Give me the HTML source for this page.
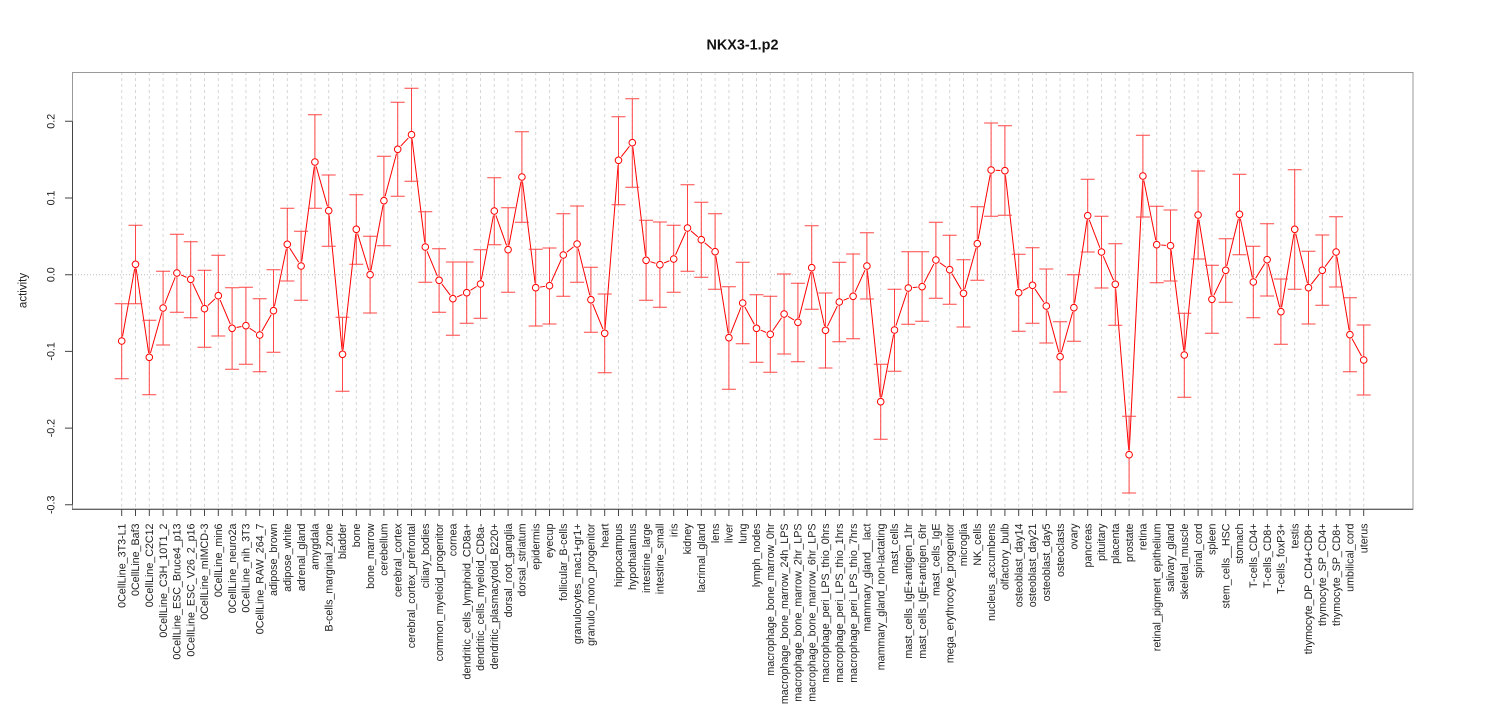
<!DOCTYPE html>
<html><head><meta charset="utf-8"><style>
body{margin:0;background:#fff}
svg{display:block}
text{font-family:"Liberation Sans",Arial,sans-serif;fill:#222}
.xl text{font-size:10.7px;text-anchor:end}
.yl text{font-size:10.7px;text-anchor:middle}
</style></head><body>
<svg xmlns="http://www.w3.org/2000/svg" width="1485" height="720" viewBox="0 0 1485 720">
<defs>
<pattern id="vg" patternUnits="userSpaceOnUse" x="114.8" y="72" width="13.8" height="6"><rect x="6.4" y="0" width="1" height="3" fill="#d6d6d6"/></pattern>
<pattern id="tk" patternUnits="userSpaceOnUse" x="114.8" y="509" width="13.8" height="8"><rect x="6.4" y="0" width="1" height="8" fill="#444"/></pattern>
<marker id="g" markerUnits="userSpaceOnUse" markerWidth="12" markerHeight="12" refX="6" refY="6" overflow="visible"><circle cx="6" cy="6" r="4.6" fill="#fff"/></marker>
<marker id="c" markerUnits="userSpaceOnUse" markerWidth="12" markerHeight="12" refX="6" refY="6" overflow="visible"><circle cx="6" cy="6" r="3.3" fill="#fff" stroke="#f00" stroke-width="1"/></marker>
</defs>
<rect width="1485" height="720" fill="#fff"/>
<rect x="114.8" y="72" width="1255.8" height="437" fill="url(#vg)"/>
<line x1="72" y1="274.7" x2="1413" y2="274.7" stroke="#bbb" stroke-dasharray="1 2"/>

<polyline fill="none" stroke="#f00" stroke-width="1" points="121.7,341 135.5,264.3 149.3,357.3 163.1,308 176.9,273 190.7,279.3 204.5,308.7 218.3,295.7 232.1,328.3 245.9,325.7 259.7,335 273.5,310.7 287.3,244.3 301.1,266 314.9,162 328.7,210.7 342.5,354.3 356.3,229.3 370.1,274.7 383.9,200.7 397.7,149.3 411.5,134.7 425.3,247 439.1,280.3 452.9,298.7 466.7,292.7 480.5,284 494.3,211 508.1,249.7 521.9,177 535.7,287.7 549.5,285.7 563.3,255 577.1,244 590.9,299.7 604.7,333.3 618.5,160.3 632.3,142.7 646.1,260.3 659.9,264.7 673.7,259 687.5,228 701.3,239.7 715.1,251.7 728.9,337.7 742.7,303 756.5,328.3 770.3,334.3 784.1,314 797.9,322.3 811.7,267.7 825.5,330.3 839.3,302 853.1,296.3 866.9,266 880.7,401.7 894.5,330 908.3,288 922.1,286.7 935.9,260 949.7,269.7 963.5,293.3 977.3,243.7 991.1,170 1004.9,170.7 1018.7,292.7 1032.5,285.3 1046.3,306 1060.1,356.7 1073.9,307.7 1087.7,215.7 1101.5,252 1115.3,284.3 1129.1,454.7 1142.9,176 1156.7,244.7 1170.5,245.7 1184.3,355 1198.1,215 1211.9,299.3 1225.7,270.3 1239.5,214.3 1253.3,282 1267.1,259.7 1280.9,311.7 1294.7,229.3 1308.5,287.7 1322.3,270.3 1336.1,252 1349.9,334.7 1363.7,360"/>

<polyline fill="none" stroke="none" marker-start="url(#g)" marker-mid="url(#g)" marker-end="url(#g)" points="121.7,341 135.5,264.3 149.3,357.3 163.1,308 176.9,273 190.7,279.3 204.5,308.7 218.3,295.7 232.1,328.3 245.9,325.7 259.7,335 273.5,310.7 287.3,244.3 301.1,266 314.9,162 328.7,210.7 342.5,354.3 356.3,229.3 370.1,274.7 383.9,200.7 397.7,149.3 411.5,134.7 425.3,247 439.1,280.3 452.9,298.7 466.7,292.7 480.5,284 494.3,211 508.1,249.7 521.9,177 535.7,287.7 549.5,285.7 563.3,255 577.1,244 590.9,299.7 604.7,333.3 618.5,160.3 632.3,142.7 646.1,260.3 659.9,264.7 673.7,259 687.5,228 701.3,239.7 715.1,251.7 728.9,337.7 742.7,303 756.5,328.3 770.3,334.3 784.1,314 797.9,322.3 811.7,267.7 825.5,330.3 839.3,302 853.1,296.3 866.9,266 880.7,401.7 894.5,330 908.3,288 922.1,286.7 935.9,260 949.7,269.7 963.5,293.3 977.3,243.7 991.1,170 1004.9,170.7 1018.7,292.7 1032.5,285.3 1046.3,306 1060.1,356.7 1073.9,307.7 1087.7,215.7 1101.5,252 1115.3,284.3 1129.1,454.7 1142.9,176 1156.7,244.7 1170.5,245.7 1184.3,355 1198.1,215 1211.9,299.3 1225.7,270.3 1239.5,214.3 1253.3,282 1267.1,259.7 1280.9,311.7 1294.7,229.3 1308.5,287.7 1322.3,270.3 1336.1,252 1349.9,334.7 1363.7,360"/>

<path fill="none" stroke="#ff4545" stroke-width="1" d="
M121.7 303.7m-7 0h14m-7 0V378.7m-7 0h14
M135.5 225.3m-7 0h14m-7 0V303.7m-7 0h14
M149.3 320.3m-7 0h14m-7 0V394.7m-7 0h14
M163.1 271.3m-7 0h14m-7 0V345m-7 0h14
M176.9 234.3m-7 0h14m-7 0V312.3m-7 0h14
M190.7 241.7m-7 0h14m-7 0V317.7m-7 0h14
M204.5 270.3m-7 0h14m-7 0V347.3m-7 0h14
M218.3 255.3m-7 0h14m-7 0V336m-7 0h14
M232.1 287.7m-7 0h14m-7 0V369.3m-7 0h14
M245.9 287.3m-7 0h14m-7 0V364.3m-7 0h14
M259.7 298.7m-7 0h14m-7 0V371.7m-7 0h14
M273.5 269.7m-7 0h14m-7 0V352.3m-7 0h14
M287.3 208.3m-7 0h14m-7 0V281m-7 0h14
M301.1 231.3m-7 0h14m-7 0V300.3m-7 0h14
M314.9 114.7m-7 0h14m-7 0V208.3m-7 0h14
M328.7 175m-7 0h14m-7 0V246.3m-7 0h14
M342.5 317.3m-7 0h14m-7 0V391.3m-7 0h14
M356.3 194.7m-7 0h14m-7 0V264.3m-7 0h14
M370.1 236.3m-7 0h14m-7 0V313m-7 0h14
M383.9 156.3m-7 0h14m-7 0V245.7m-7 0h14
M397.7 102.3m-7 0h14m-7 0V196.3m-7 0h14
M411.5 88.3m-7 0h14m-7 0V181.3m-7 0h14
M425.3 211.7m-7 0h14m-7 0V282.3m-7 0h14
M439.1 248.7m-7 0h14m-7 0V312.3m-7 0h14
M452.9 262m-7 0h14m-7 0V335.3m-7 0h14
M466.7 262m-7 0h14m-7 0V323.3m-7 0h14
M480.5 249.7m-7 0h14m-7 0V318.3m-7 0h14
M494.3 177.7m-7 0h14m-7 0V244.7m-7 0h14
M508.1 207.7m-7 0h14m-7 0V292.3m-7 0h14
M521.9 131.7m-7 0h14m-7 0V222.3m-7 0h14
M535.7 249.3m-7 0h14m-7 0V326m-7 0h14
M549.5 248m-7 0h14m-7 0V324m-7 0h14
M563.3 213.7m-7 0h14m-7 0V296.3m-7 0h14
M577.1 206m-7 0h14m-7 0V282.3m-7 0h14
M590.9 267.3m-7 0h14m-7 0V332.3m-7 0h14
M604.7 294m-7 0h14m-7 0V372.7m-7 0h14
M618.5 116.7m-7 0h14m-7 0V204.7m-7 0h14
M632.3 98.7m-7 0h14m-7 0V187.3m-7 0h14
M646.1 220.3m-7 0h14m-7 0V300.3m-7 0h14
M659.9 222m-7 0h14m-7 0V307.3m-7 0h14
M673.7 225.3m-7 0h14m-7 0V292.3m-7 0h14
M687.5 184.7m-7 0h14m-7 0V271.3m-7 0h14
M701.3 202.3m-7 0h14m-7 0V277.3m-7 0h14
M715.1 213.7m-7 0h14m-7 0V289.3m-7 0h14
M728.9 286.7m-7 0h14m-7 0V389.3m-7 0h14
M742.7 262.3m-7 0h14m-7 0V343.7m-7 0h14
M756.5 294.7m-7 0h14m-7 0V362.3m-7 0h14
M770.3 296.3m-7 0h14m-7 0V372.3m-7 0h14
M784.1 274m-7 0h14m-7 0V354m-7 0h14
M797.9 283.3m-7 0h14m-7 0V361.7m-7 0h14
M811.7 225.7m-7 0h14m-7 0V309.3m-7 0h14
M825.5 293m-7 0h14m-7 0V368m-7 0h14
M839.3 262.3m-7 0h14m-7 0V341.7m-7 0h14
M853.1 254m-7 0h14m-7 0V338.7m-7 0h14
M866.9 232.7m-7 0h14m-7 0V299m-7 0h14
M880.7 364.3m-7 0h14m-7 0V439.3m-7 0h14
M894.5 289.3m-7 0h14m-7 0V371.3m-7 0h14
M908.3 251.7m-7 0h14m-7 0V324.3m-7 0h14
M922.1 251.7m-7 0h14m-7 0V321.3m-7 0h14
M935.9 222.3m-7 0h14m-7 0V298.3m-7 0h14
M949.7 235.3m-7 0h14m-7 0V304.3m-7 0h14
M963.5 259.7m-7 0h14m-7 0V327m-7 0h14
M977.3 206.7m-7 0h14m-7 0V280.3m-7 0h14
M991.1 123m-7 0h14m-7 0V216.3m-7 0h14
M1004.9 125.7m-7 0h14m-7 0V215.3m-7 0h14
M1018.7 254.3m-7 0h14m-7 0V331.3m-7 0h14
M1032.5 247.7m-7 0h14m-7 0V323.3m-7 0h14
M1046.3 269m-7 0h14m-7 0V343m-7 0h14
M1060.1 321.7m-7 0h14m-7 0V392m-7 0h14
M1073.9 274.7m-7 0h14m-7 0V341.3m-7 0h14
M1087.7 179.3m-7 0h14m-7 0V252m-7 0h14
M1101.5 216.3m-7 0h14m-7 0V288m-7 0h14
M1115.3 243.7m-7 0h14m-7 0V325.3m-7 0h14
M1129.1 416.3m-7 0h14m-7 0V493m-7 0h14
M1142.9 135.3m-7 0h14m-7 0V217m-7 0h14
M1156.7 206.3m-7 0h14m-7 0V282.7m-7 0h14
M1170.5 210m-7 0h14m-7 0V281m-7 0h14
M1184.3 313.3m-7 0h14m-7 0V397.3m-7 0h14
M1198.1 171m-7 0h14m-7 0V259m-7 0h14
M1211.9 265.3m-7 0h14m-7 0V333.3m-7 0h14
M1225.7 238.7m-7 0h14m-7 0V302.3m-7 0h14
M1239.5 174.3m-7 0h14m-7 0V254.7m-7 0h14
M1253.3 246.3m-7 0h14m-7 0V317.7m-7 0h14
M1267.1 223.7m-7 0h14m-7 0V296m-7 0h14
M1280.9 279m-7 0h14m-7 0V344.3m-7 0h14
M1294.7 169.7m-7 0h14m-7 0V289.3m-7 0h14
M1308.5 251.3m-7 0h14m-7 0V324m-7 0h14
M1322.3 235m-7 0h14m-7 0V305.3m-7 0h14
M1336.1 216.7m-7 0h14m-7 0V287m-7 0h14
M1349.9 297.7m-7 0h14m-7 0V371.7m-7 0h14
M1363.7 325m-7 0h14m-7 0V395m-7 0h14"/>

<polyline fill="none" stroke="none" marker-start="url(#c)" marker-mid="url(#c)" marker-end="url(#c)" points="121.7,341 135.5,264.3 149.3,357.3 163.1,308 176.9,273 190.7,279.3 204.5,308.7 218.3,295.7 232.1,328.3 245.9,325.7 259.7,335 273.5,310.7 287.3,244.3 301.1,266 314.9,162 328.7,210.7 342.5,354.3 356.3,229.3 370.1,274.7 383.9,200.7 397.7,149.3 411.5,134.7 425.3,247 439.1,280.3 452.9,298.7 466.7,292.7 480.5,284 494.3,211 508.1,249.7 521.9,177 535.7,287.7 549.5,285.7 563.3,255 577.1,244 590.9,299.7 604.7,333.3 618.5,160.3 632.3,142.7 646.1,260.3 659.9,264.7 673.7,259 687.5,228 701.3,239.7 715.1,251.7 728.9,337.7 742.7,303 756.5,328.3 770.3,334.3 784.1,314 797.9,322.3 811.7,267.7 825.5,330.3 839.3,302 853.1,296.3 866.9,266 880.7,401.7 894.5,330 908.3,288 922.1,286.7 935.9,260 949.7,269.7 963.5,293.3 977.3,243.7 991.1,170 1004.9,170.7 1018.7,292.7 1032.5,285.3 1046.3,306 1060.1,356.7 1073.9,307.7 1087.7,215.7 1101.5,252 1115.3,284.3 1129.1,454.7 1142.9,176 1156.7,244.7 1170.5,245.7 1184.3,355 1198.1,215 1211.9,299.3 1225.7,270.3 1239.5,214.3 1253.3,282 1267.1,259.7 1280.9,311.7 1294.7,229.3 1308.5,287.7 1322.3,270.3 1336.1,252 1349.9,334.7 1363.7,360"/>

<rect x="72.5" y="72.5" width="1340.5" height="436.8" fill="none" stroke="#999" stroke-width="1"/>
<line x1="72.5" y1="121.3" x2="72.5" y2="504.8" stroke="#444" stroke-width="1"/>
<line x1="72" y1="509.3" x2="1413" y2="509.3" stroke="#444" stroke-width="1"/>
<path stroke="#444" stroke-width="1" fill="none" d="M65 121.3H72M65 198H72M65 274.7H72M65 351.4H72M65 428.1H72M65 504.8H72"/>
<rect x="114.8" y="509.5" width="1255.8" height="6.5" fill="url(#tk)"/>

<text x="742.5" y="49.5" text-anchor="middle" style="font-size:14.4px;font-weight:bold;fill:#111">NKX3-1.p2</text>

<g class="yl" transform="rotate(-90)">
<text x="-121.3" y="51" dy=".35em">0.2</text>
<text x="-198" y="51" dy=".35em">0.1</text>
<text x="-274.7" y="51" dy=".35em">0.0</text>
<text x="-351.4" y="51" dy=".35em">-0.1</text>
<text x="-428.1" y="51" dy=".35em">-0.2</text>
<text x="-504.8" y="51" dy=".35em">-0.3</text>
<text x="-290.5" y="22.7" dy=".35em" style="font-size:11.5px">activity</text>
</g>

<g class="xl" transform="rotate(-90)">
<text x="-523.5" y="121.7" dy=".35em">0CellLine_3T3-L1</text>
<text x="-523.5" y="135.5" dy=".35em">0CellLine_Baf3</text>
<text x="-523.5" y="149.3" dy=".35em">0CellLine_C2C12</text>
<text x="-523.5" y="163.1" dy=".35em">0CellLine_C3H_10T1_2</text>
<text x="-523.5" y="176.9" dy=".35em">0CellLine_ESC_Bruce4_p13</text>
<text x="-523.5" y="190.7" dy=".35em">0CellLine_ESC_V26_2_p16</text>
<text x="-523.5" y="204.5" dy=".35em">0CellLine_mIMCD-3</text>
<text x="-523.5" y="218.3" dy=".35em">0CellLine_min6</text>
<text x="-523.5" y="232.1" dy=".35em">0CellLine_neuro2a</text>
<text x="-523.5" y="245.9" dy=".35em">0CellLine_nih_3T3</text>
<text x="-523.5" y="259.7" dy=".35em">0CellLine_RAW_264_7</text>
<text x="-523.5" y="273.5" dy=".35em">adipose_brown</text>
<text x="-523.5" y="287.3" dy=".35em">adipose_white</text>
<text x="-523.5" y="301.1" dy=".35em">adrenal_gland</text>
<text x="-523.5" y="314.9" dy=".35em">amygdala</text>
<text x="-523.5" y="328.7" dy=".35em">B-cells_marginal_zone</text>
<text x="-523.5" y="342.5" dy=".35em">bladder</text>
<text x="-523.5" y="356.3" dy=".35em">bone</text>
<text x="-523.5" y="370.1" dy=".35em">bone_marrow</text>
<text x="-523.5" y="383.9" dy=".35em">cerebellum</text>
<text x="-523.5" y="397.7" dy=".35em">cerebral_cortex</text>
<text x="-523.5" y="411.5" dy=".35em">cerebral_cortex_prefrontal</text>
<text x="-523.5" y="425.3" dy=".35em">ciliary_bodies</text>
<text x="-523.5" y="439.1" dy=".35em">common_myeloid_progenitor</text>
<text x="-523.5" y="452.9" dy=".35em">cornea</text>
<text x="-523.5" y="466.7" dy=".35em">dendritic_cells_lymphoid_CD8a+</text>
<text x="-523.5" y="480.5" dy=".35em">dendritic_cells_myeloid_CD8a-</text>
<text x="-523.5" y="494.3" dy=".35em">dendritic_plasmacytoid_B220+</text>
<text x="-523.5" y="508.1" dy=".35em">dorsal_root_ganglia</text>
<text x="-523.5" y="521.9" dy=".35em">dorsal_striatum</text>
<text x="-523.5" y="535.7" dy=".35em">epidermis</text>
<text x="-523.5" y="549.5" dy=".35em">eyecup</text>
<text x="-523.5" y="563.3" dy=".35em">follicular_B-cells</text>
<text x="-523.5" y="577.1" dy=".35em">granulocytes_mac1+gr1+</text>
<text x="-523.5" y="590.9" dy=".35em">granulo_mono_progenitor</text>
<text x="-523.5" y="604.7" dy=".35em">heart</text>
<text x="-523.5" y="618.5" dy=".35em">hippocampus</text>
<text x="-523.5" y="632.3" dy=".35em">hypothalamus</text>
<text x="-523.5" y="646.1" dy=".35em">intestine_large</text>
<text x="-523.5" y="659.9" dy=".35em">intestine_small</text>
<text x="-523.5" y="673.7" dy=".35em">iris</text>
<text x="-523.5" y="687.5" dy=".35em">kidney</text>
<text x="-523.5" y="701.3" dy=".35em">lacrimal_gland</text>
<text x="-523.5" y="715.1" dy=".35em">lens</text>
<text x="-523.5" y="728.9" dy=".35em">liver</text>
<text x="-523.5" y="742.7" dy=".35em">lung</text>
<text x="-523.5" y="756.5" dy=".35em">lymph_nodes</text>
<text x="-523.5" y="770.3" dy=".35em">macrophage_bone_marrow_0hr</text>
<text x="-523.5" y="784.1" dy=".35em">macrophage_bone_marrow_24h_LPS</text>
<text x="-523.5" y="797.9" dy=".35em">macrophage_bone_marrow_2hr_LPS</text>
<text x="-523.5" y="811.7" dy=".35em">macrophage_bone_marrow_6hr_LPS</text>
<text x="-523.5" y="825.5" dy=".35em">macrophage_peri_LPS_thio_0hrs</text>
<text x="-523.5" y="839.3" dy=".35em">macrophage_peri_LPS_thio_1hrs</text>
<text x="-523.5" y="853.1" dy=".35em">macrophage_peri_LPS_thio_7hrs</text>
<text x="-523.5" y="866.9" dy=".35em">mammary_gland__lact</text>
<text x="-523.5" y="880.7" dy=".35em">mammary_gland_non-lactating</text>
<text x="-523.5" y="894.5" dy=".35em">mast_cells</text>
<text x="-523.5" y="908.3" dy=".35em">mast_cells_IgE+antigen_1hr</text>
<text x="-523.5" y="922.1" dy=".35em">mast_cells_IgE+antigen_6hr</text>
<text x="-523.5" y="935.9" dy=".35em">mast_cells_IgE</text>
<text x="-523.5" y="949.7" dy=".35em">mega_erythrocyte_progenitor</text>
<text x="-523.5" y="963.5" dy=".35em">microglia</text>
<text x="-523.5" y="977.3" dy=".35em">NK_cells</text>
<text x="-523.5" y="991.1" dy=".35em">nucleus_accumbens</text>
<text x="-523.5" y="1004.9" dy=".35em">olfactory_bulb</text>
<text x="-523.5" y="1018.7" dy=".35em">osteoblast_day14</text>
<text x="-523.5" y="1032.5" dy=".35em">osteoblast_day21</text>
<text x="-523.5" y="1046.3" dy=".35em">osteoblast_day5</text>
<text x="-523.5" y="1060.1" dy=".35em">osteoclasts</text>
<text x="-523.5" y="1073.9" dy=".35em">ovary</text>
<text x="-523.5" y="1087.7" dy=".35em">pancreas</text>
<text x="-523.5" y="1101.5" dy=".35em">pituitary</text>
<text x="-523.5" y="1115.3" dy=".35em">placenta</text>
<text x="-523.5" y="1129.1" dy=".35em">prostate</text>
<text x="-523.5" y="1142.9" dy=".35em">retina</text>
<text x="-523.5" y="1156.7" dy=".35em">retinal_pigment_epithelium</text>
<text x="-523.5" y="1170.5" dy=".35em">salivary_gland</text>
<text x="-523.5" y="1184.3" dy=".35em">skeletal_muscle</text>
<text x="-523.5" y="1198.1" dy=".35em">spinal_cord</text>
<text x="-523.5" y="1211.9" dy=".35em">spleen</text>
<text x="-523.5" y="1225.7" dy=".35em">stem_cells__HSC</text>
<text x="-523.5" y="1239.5" dy=".35em">stomach</text>
<text x="-523.5" y="1253.3" dy=".35em">T-cells_CD4+</text>
<text x="-523.5" y="1267.1" dy=".35em">T-cells_CD8+</text>
<text x="-523.5" y="1280.9" dy=".35em">T-cells_foxP3+</text>
<text x="-523.5" y="1294.7" dy=".35em">testis</text>
<text x="-523.5" y="1308.5" dy=".35em">thymocyte_DP_CD4+CD8+</text>
<text x="-523.5" y="1322.3" dy=".35em">thymocyte_SP_CD4+</text>
<text x="-523.5" y="1336.1" dy=".35em">thymocyte_SP_CD8+</text>
<text x="-523.5" y="1349.9" dy=".35em">umbilical_cord</text>
<text x="-523.5" y="1363.7" dy=".35em">uterus</text>
</g>
</svg>
</body></html>
